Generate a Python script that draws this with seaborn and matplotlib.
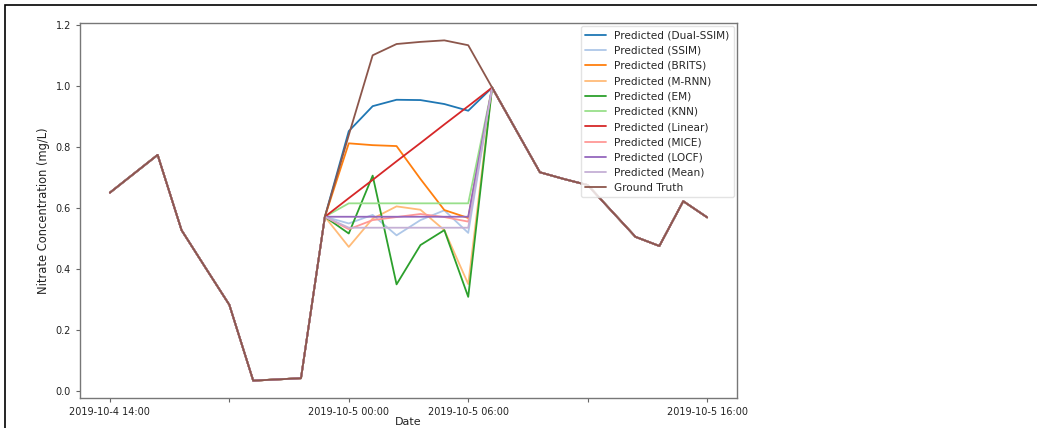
import numpy as np
import pandas as pd
import matplotlib
matplotlib.use("Agg")
import matplotlib.pyplot as plt
import matplotlib.patches as mpatches
import seaborn as sns

# ---- data ----
ground_truth = [0.650, 0.712, 0.774, 0.527, 0.404, 0.282, 0.033, 0.037, 0.041, 0.571,
                0.839, 1.101, 1.138, 1.145, 1.150, 1.134, 0.995, 0.856, 0.717, 0.695,
                0.675, 0.590, 0.505, 0.475, 0.622, 0.569]
gap_start = 10  # first imputed index
dual_ssim = [0.852, 0.934, 0.955, 0.954, 0.941, 0.919]
ssim      = [0.549, 0.577, 0.510, 0.560, 0.592, 0.518]
brits     = [0.812, 0.806, 0.803, 0.695, 0.593, 0.567]
mrnn      = [0.472, 0.565, 0.605, 0.594, 0.527, 0.350]
em        = [0.516, 0.706, 0.349, 0.478, 0.527, 0.308]
knn       = [0.615, 0.615, 0.615, 0.615, 0.615, 0.615]
linear    = [0.632, 0.692, 0.753, 0.813, 0.874, 0.934]
mice      = [0.530, 0.560, 0.570, 0.580, 0.570, 0.555]
locf      = [0.571, 0.571, 0.571, 0.571, 0.571, 0.571]
mean_imp  = [0.535, 0.535, 0.535, 0.535, 0.535, 0.535]

series_names = ["Predicted (Dual-SSIM)", "Predicted (SSIM)", "Predicted (BRITS)",
                "Predicted (M-RNN)", "Predicted (EM)", "Predicted (KNN)",
                "Predicted (Linear)", "Predicted (MICE)", "Predicted (LOCF)",
                "Predicted (Mean)"]
series_vals = [dual_ssim, ssim, brits, mrnn, em, knn, linear, mice, locf, mean_imp]

tick_idx = [0, 5, 10, 15, 20, 25]
tick_labels = ["2019-10-4 14:00", "", "2019-10-5 00:00", "2019-10-5 06:00", "",
               "2019-10-5 16:00"]

# ---- plotting ----
sns.set_style("white")
plt.rcParams["font.family"] = ["DejaVu Sans"]
colors = sns.color_palette("tab20", 11)

fig = plt.figure(figsize=(10.37, 4.28), dpi=100)
ax = fig.add_axes([80 / 1037, 1 - 398 / 428, (737 - 80) / 1037, (398 - 23) / 428])

x = np.arange(len(ground_truth))
for i, (name, vals) in enumerate(zip(series_names, series_vals)):
    y = list(ground_truth)
    y[gap_start:gap_start + len(vals)] = vals
    df = pd.DataFrame({"x": x, "y": y})
    sns.lineplot(data=df, x="x", y="y", ax=ax, color=colors[i], label=name,
                 linewidth=1.3)

df_gt = pd.DataFrame({"x": x, "y": ground_truth})
sns.lineplot(data=df_gt, x="x", y="y", ax=ax, color=colors[10], label="Ground Truth",
             linewidth=1.3)

ax.set_xticks(tick_idx)
ax.set_xticklabels(tick_labels)
ax.set_yticks([0.0, 0.2, 0.4, 0.6, 0.8, 1.0, 1.2])
ax.set_yticklabels(["0.0", "0.2", "0.4", "0.6", "0.8", "1.0", "1.2"])
ax.set_xlim(-1.25, 26.25)
ax.set_ylim(-0.024, 1.207)
ax.tick_params(axis="both", labelsize=7, length=3, width=0.8, color="#666666",
               labelcolor="#222222", bottom=True, left=True)
ax.set_xlabel("Date", fontsize=8, color="#222222", labelpad=0)
ax.set_ylabel("Nitrate Concentration (mg/L)", fontsize=8.3, color="#222222", labelpad=4)
for s in ax.spines.values():
    s.set_color("#777777")
    s.set_linewidth(1.0)

leg = ax.legend(loc="upper right", fontsize=7.6, borderaxespad=0.3, handlelength=2.0,
                labelspacing=0.5, frameon=True)
leg.get_frame().set_edgecolor("#dddddd")

# image frame lines (top and left)
fig.add_artist(mpatches.Rectangle((5 / 1037, -0.1), 1.2, 1 - 5 / 428 + 0.1,
                                  transform=fig.transFigure, fill=False,
                                  edgecolor="black", linewidth=1.2))

fig.savefig("out.png", dpi=100)
